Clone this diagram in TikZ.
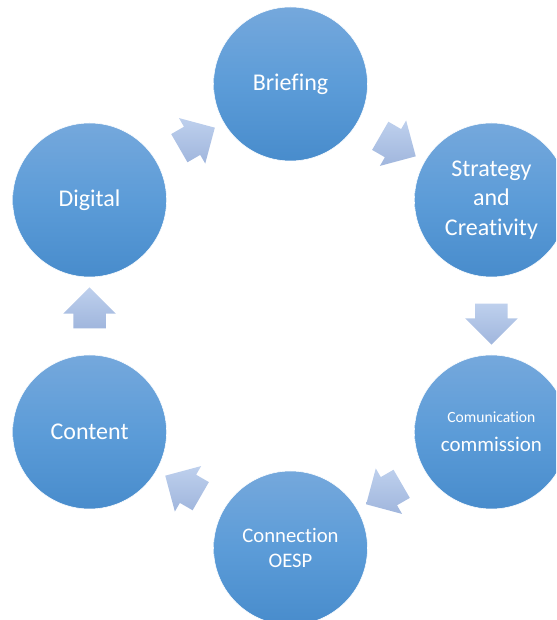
\documentclass[tikz,border=0pt]{standalone}
\usepackage{fontspec}
\setmainfont{Carlito}[Ligatures=NoCommon]
\usetikzlibrary{shapes.arrows,calc}

\definecolor{circtop}{RGB}{117,168,220}
\definecolor{circmid}{RGB}{92,156,216}
\definecolor{circbot}{RGB}{72,140,204}
\definecolor{arrtop}{RGB}{190,208,237}
\definecolor{arrbot}{RGB}{160,182,221}

\begin{document}
\begin{tikzpicture}[x=0.75pt,y=0.75pt,
	stage/.style={circle, minimum size=115.5pt, inner sep=0pt, draw=white, line width=0.4pt,
		top color=circtop, bottom color=circbot, middle color=circmid,
		text=white, align=center, font=\fontsize{18}{22}\selectfont},
	flowarrow/.style={single arrow, single arrow head extend=7.5pt, single arrow head indent=0pt,
		inner xsep=0pt, inner ysep=12pt, minimum height=30.75pt, draw=none,
		top color=arrtop, bottom color=arrbot, rotate=#1}]
	%page 556 x 620 px
	\path[use as bounding box, clip] (0,0) rectangle (556,620);
	
	%centre of the cycle
	\coordinate (hub) at (290.5,304);
	
	%Stages
	\node[stage] (briefing) at ($(hub)+(90:232)$) {Briefing};
	\node[stage] (strategy) at ($(hub)+(30:232)$) {Strategy\\and\\Creativity};
	\node[stage] (comm) at ($(hub)+(-30:232)$) {{\fontsize{11.7}{17}\selectfont Comunication}\\{\fontsize{15.7}{17}\selectfont commission}};
	\node[stage, font=\fontsize{15.5}{19}\selectfont] (connection) at ($(hub)+(-90:232)$) {Connection\\OESP};
	\node[stage] (content) at ($(hub)+(210:232)$) {Content};
	\node[stage] (digital) at ($(hub)+(150:232)$) {Digital};
	
	%Block arrows between stages
	\foreach \from/\to/\ang in {briefing/strategy/-30, strategy/comm/-90, comm/connection/210,
		connection/content/150, content/digital/90, digital/briefing/30}
		\node[flowarrow=\ang] (arr-\from) at ($(\from)!0.5!(\to)$) {};
\end{tikzpicture}
\end{document}
